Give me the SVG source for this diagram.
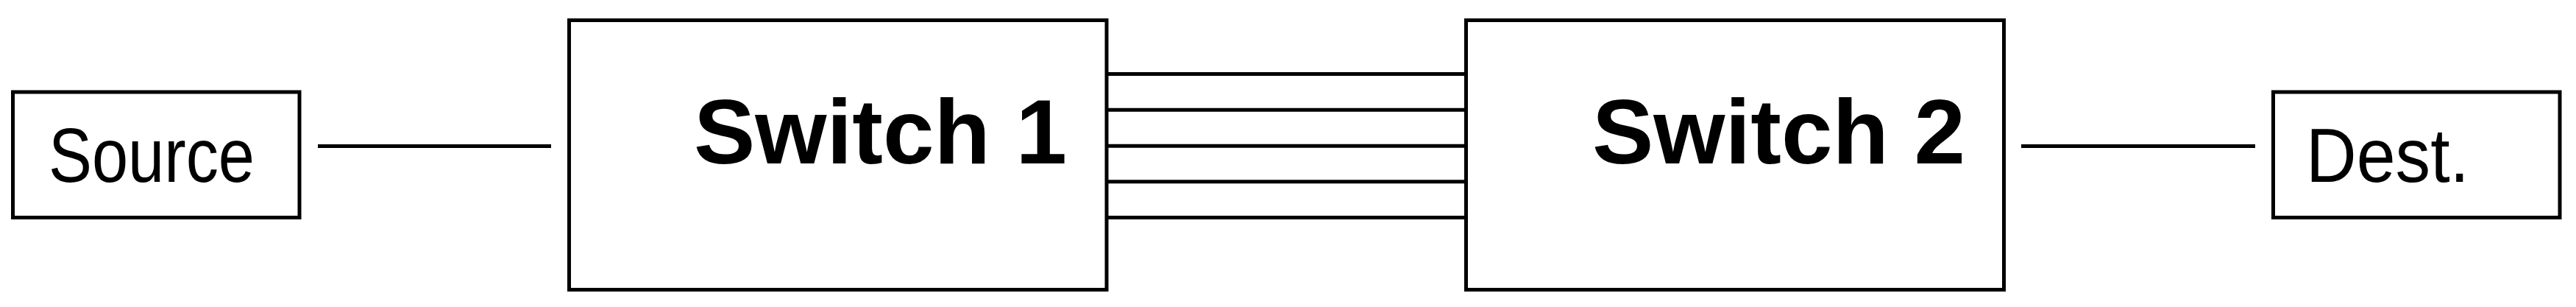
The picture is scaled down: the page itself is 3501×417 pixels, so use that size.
<svg xmlns="http://www.w3.org/2000/svg" width="3501" height="417" viewBox="0 0 3501 417">
<style>
.box{fill:#fff;stroke:#000;stroke-width:5}
.ln{stroke:#000;stroke-width:5;fill:none}
.sm{font-family:"Liberation Sans",Arial,sans-serif;font-size:103px;fill:#000}
.bg{font-family:"Liberation Sans",Arial,sans-serif;font-size:125px;font-weight:bold;fill:#000}
</style>
<rect width="3501" height="417" fill="#fff"/>
<g id="connectors">
<line class="ln" x1="432" y1="198.5" x2="749" y2="198.5"/>
<line class="ln" x1="2747" y1="198.5" x2="3065" y2="198.5"/>
<line class="ln" x1="1504" y1="100.5" x2="1992" y2="100.5"/>
<line class="ln" x1="1504" y1="149.3" x2="1992" y2="149.3"/>
<line class="ln" x1="1504" y1="198.3" x2="1992" y2="198.3"/>
<line class="ln" x1="1504" y1="246.8" x2="1992" y2="246.8"/>
<line class="ln" x1="1504" y1="295.5" x2="1992" y2="295.5"/>
</g>
<g id="source">
<rect class="box" x="17.5" y="125" width="389.5" height="170.5"/>
<text class="sm" x="66" y="246.7" textLength="280" lengthAdjust="spacingAndGlyphs">Source</text>
</g>
<g id="switch1">
<rect class="box" x="773.5" y="27.5" width="730.5" height="366"/>
<text class="bg" x="943" y="221.7">Switch 1</text>
</g>
<g id="switch2">
<rect class="box" x="1992.5" y="27.5" width="731" height="366"/>
<text class="bg" x="2164" y="221.7">Switch 2</text>
</g>
<g id="dest">
<rect class="box" x="3089.5" y="125" width="389.5" height="170.5"/>
<text class="sm" x="3134" y="246.7" textLength="222" lengthAdjust="spacingAndGlyphs">Dest.</text>
</g>
</svg>
